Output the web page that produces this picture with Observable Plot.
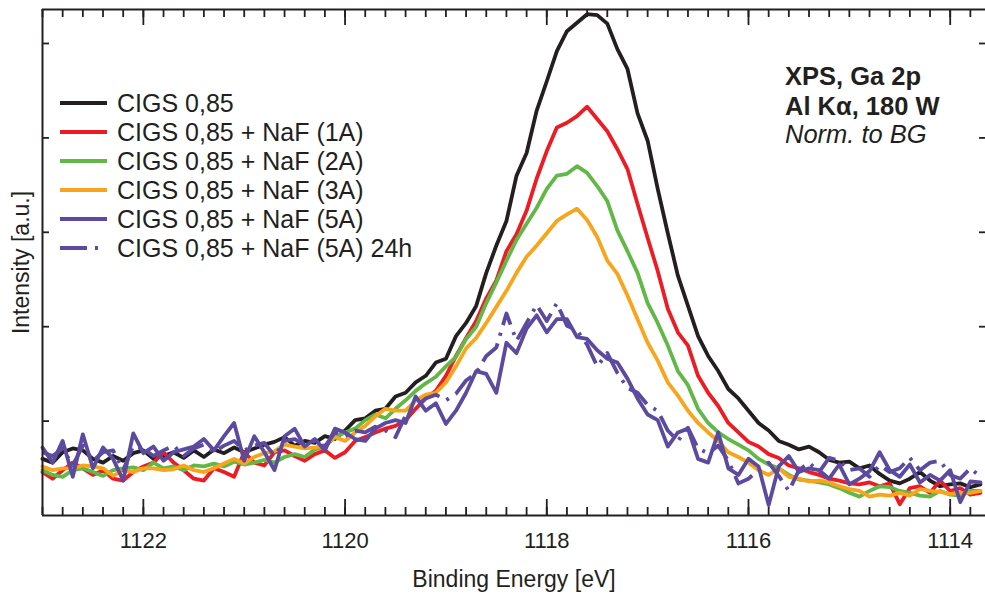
<!DOCTYPE html>
<html>
<head>
<meta charset="utf-8">
<script src="https://cdn.jsdelivr.net/npm/d3@7"></script>
<script src="https://cdn.jsdelivr.net/npm/@observablehq/plot@0.6"></script>
<style>
  html, body { margin: 0; padding: 0; background: #fff; }
  #chart { width: 985px; height: 597px; overflow: hidden; }
</style>
</head>
<body>
<div id="chart"></div>
<script>
// Binding energy grid of the Ga 2p scan (eV)
const energy = [
  1123.0,1122.9,1122.8,1122.7,1122.6,1122.5,1122.4,1122.3,1122.2,1122.1,
  1122.0,1121.9,1121.8,1121.7,1121.6,1121.5,1121.4,1121.3,1121.2,1121.1,
  1121.0,1120.9,1120.8,1120.7,1120.6,1120.5,1120.4,1120.3,1120.2,1120.1,
  1120.0,1119.9,1119.8,1119.7,1119.6,1119.5,1119.4,1119.3,1119.2,1119.1,
  1119.0,1118.9,1118.8,1118.7,1118.6,1118.5,1118.4,1118.3,1118.2,1118.1,
  1118.0,1117.9,1117.8,1117.7,1117.6,1117.5,1117.4,1117.3,1117.2,1117.1,
  1117.0,1116.9,1116.8,1116.7,1116.6,1116.5,1116.4,1116.3,1116.2,1116.1,
  1116.0,1115.9,1115.8,1115.7,1115.6,1115.5,1115.4,1115.3,1115.2,1115.1,
  1115.0,1114.9,1114.8,1114.7,1114.6,1114.5,1114.4,1114.3,1114.2,1114.1,
  1114.0,1113.9,1113.8,1113.7
];

// Intensities normalised to background (a.u.)
const cigs = [
  0.60,0.56,0.67,0.71,0.69,0.60,0.56,0.63,0.58,0.66,
  0.69,0.60,0.63,0.67,0.61,0.69,0.62,0.70,0.66,0.72,
  0.67,0.71,0.75,0.78,0.83,0.74,0.79,0.77,0.84,0.81,
  0.90,1.01,1.03,1.11,1.13,1.26,1.30,1.41,1.48,1.62,
  1.66,1.90,2.04,2.22,2.57,2.86,3.12,3.60,3.84,4.29,
  4.60,4.92,5.13,5.22,5.31,5.30,5.21,4.94,4.73,4.26,
  3.97,3.46,2.99,2.54,2.22,1.90,1.69,1.53,1.34,1.24,
  1.11,0.98,0.90,0.79,0.75,0.70,0.73,0.67,0.59,0.56,
  0.57,0.50,0.53,0.44,0.37,0.34,0.39,0.46,0.37,0.31,
  0.33,0.34,0.30,0.33
];
const naf1 = [
  0.46,0.39,0.48,0.56,0.50,0.43,0.48,0.39,0.37,0.46,
  0.52,0.56,0.67,0.56,0.48,0.39,0.37,0.50,0.46,0.41,
  0.67,0.56,0.53,0.67,0.69,0.63,0.58,0.65,0.69,0.61,
  0.67,0.79,0.83,0.88,0.92,0.95,1.01,1.13,1.24,1.32,
  1.48,1.69,1.88,2.06,2.30,2.49,2.80,2.98,3.23,3.57,
  3.86,4.11,4.16,4.23,4.33,4.20,4.07,3.88,3.67,3.30,
  2.94,2.59,2.19,1.94,1.80,1.48,1.30,1.16,0.98,0.88,
  0.78,0.73,0.65,0.61,0.53,0.50,0.46,0.43,0.39,0.37,
  0.34,0.33,0.35,0.31,0.34,0.12,0.29,0.31,0.24,0.37,
  0.26,0.29,0.22,0.24
];
const naf2 = [
  0.48,0.43,0.41,0.48,0.50,0.46,0.42,0.48,0.50,0.51,
  0.48,0.56,0.50,0.52,0.48,0.53,0.52,0.55,0.52,0.57,
  0.54,0.56,0.59,0.56,0.62,0.65,0.62,0.70,0.73,0.83,
  0.88,0.92,1.01,1.07,1.03,1.13,1.22,1.32,1.40,1.47,
  1.58,1.68,1.87,2.00,2.25,2.47,2.70,2.92,3.09,3.26,
  3.46,3.60,3.62,3.70,3.63,3.49,3.33,3.02,2.80,2.57,
  2.25,2.04,1.80,1.53,1.38,1.13,0.98,0.88,0.81,0.75,
  0.69,0.60,0.54,0.50,0.43,0.38,0.37,0.35,0.33,0.29,
  0.24,0.20,0.26,0.31,0.30,0.26,0.24,0.21,0.20,0.26,
  0.22,0.21,0.26,0.26
];
const naf3 = [
  0.52,0.48,0.50,0.50,0.53,0.52,0.50,0.42,0.48,0.46,
  0.50,0.50,0.48,0.49,0.53,0.48,0.46,0.50,0.55,0.60,
  0.55,0.62,0.66,0.68,0.75,0.73,0.71,0.72,0.74,0.83,
  0.79,0.88,0.95,1.05,1.13,1.11,1.11,1.22,1.28,1.30,
  1.41,1.58,1.77,1.88,2.04,2.21,2.38,2.57,2.74,2.86,
  2.99,3.12,3.19,3.25,3.13,2.95,2.70,2.56,2.33,2.08,
  1.83,1.64,1.41,1.27,1.11,0.98,0.88,0.79,0.67,0.62,
  0.56,0.48,0.43,0.50,0.41,0.39,0.36,0.37,0.35,0.31,
  0.28,0.26,0.20,0.22,0.21,0.24,0.21,0.28,0.26,0.25,
  0.23,0.24,0.24,0.26
];
const naf5 = [
  0.72,0.56,0.79,0.41,0.86,0.50,0.72,0.60,0.37,0.87,
  0.66,0.73,0.58,0.67,0.70,0.73,0.81,0.69,0.84,0.98,
  0.58,0.84,0.67,0.48,0.84,0.92,0.73,0.81,0.69,0.92,
  0.88,0.81,0.79,0.92,0.98,1.01,0.98,1.26,1.11,1.19,
  0.97,1.11,1.30,1.53,1.50,1.30,1.83,1.72,1.98,2.12,
  1.94,2.08,2.08,1.89,1.87,1.75,1.66,1.62,1.45,1.24,
  1.07,1.01,0.73,0.88,0.92,0.60,0.56,0.88,0.50,0.43,
  0.60,0.52,0.11,0.52,0.63,0.46,0.50,0.48,0.39,0.54,
  0.33,0.39,0.47,0.67,0.48,0.41,0.54,0.35,0.43,0.37,
  0.48,0.14,0.36,0.35
];
const naf5_24h = [
  0.67,0.63,0.71,0.53,0.74,0.58,0.67,0.69,0.48,0.74,
  0.71,0.63,0.69,0.74,0.63,0.71,0.75,0.67,0.74,0.79,
  0.69,0.74,0.77,0.63,0.79,0.81,0.74,0.79,0.73,0.88,
  0.84,0.90,0.88,0.94,0.90,0.83,1.06,1.16,1.24,1.28,
  1.22,1.29,1.43,1.51,1.69,1.78,2.14,1.85,2.04,2.23,
  2.06,2.25,2.01,1.96,1.81,1.58,1.72,1.51,1.35,1.30,
  1.17,1.11,0.90,0.79,0.93,0.71,0.66,0.74,0.58,0.34,
  0.39,0.48,0.56,0.42,0.26,0.48,0.56,0.46,0.61,0.58,
  0.48,0.50,0.41,0.53,0.46,0.50,0.61,0.48,0.56,0.58,
  0.43,0.39,0.50,0.41
];

const seriesNames = [
  "CIGS 0,85",
  "CIGS 0,85 + NaF (1A)",
  "CIGS 0,85 + NaF (2A)",
  "CIGS 0,85 + NaF (3A)",
  "CIGS 0,85 + NaF (5A)",
  "CIGS 0,85 + NaF (5A) 24h"
];
const seriesValues = [cigs, naf1, naf2, naf3, naf5, naf5_24h];
const seriesColors = ["#231f20", "#ed1c24", "#62b846", "#f9a51b", "#5c4a9f", "#5c4a9f"];
const seriesDash = [null, null, null, null, null, "24,8,3,8"];
// drawing order: black first, solid 5A on top
const drawOrder = [0, 1, 2, 3, 5, 4];

const majorTicks = [1122, 1120, 1118, 1116, 1114];
const minorTicks = d3.range(0, 47).map(i => +(1123 - 0.2 * i).toFixed(1));
const yTicks = [1, 2, 3, 4, 5];
const annotation = ["XPS, Ga 2p", "Al K\u03b1, 180 W", "Norm. to BG"];

const ink = "#231f20";
const font = "'Liberation Sans', Arial, Helvetica, sans-serif";
const W = 985, H = 597;
const mL = 42, mR = 0, mT = 9, mB = 82;
const frameW = W - mL - mR, frameH = H - mT - mB;
const xDomain = [1123, 1113.65];
const yDomain = [0, 5.36];

const rows = seriesValues.map((vals, s) =>
  energy.map((e, i) => ({series: seriesNames[s], energy: e, intensity: vals[i]}))
);

const lineMarks = drawOrder.map(s =>
  Plot.line(rows[s], {
    x: "energy",
    y: "intensity",
    stroke: seriesColors[s],
    strokeWidth: 3.8,
    strokeLinejoin: "round",
    strokeLinecap: seriesDash[s] ? "butt" : "round",
    strokeDasharray: seriesDash[s]
  })
);

const chart = Plot.plot({
  width: W,
  height: H,
  marginLeft: mL,
  marginRight: mR,
  marginTop: mT,
  marginBottom: mB,
  x: {domain: xDomain},
  y: {domain: yDomain, axis: null},
  style: {fontFamily: font, color: ink, background: "white", overflow: "visible"},
  marks: [
    ...lineMarks,
    // inward ticks on the bottom edge
    Plot.ruleX(minorTicks, {stroke: ink, strokeWidth: 1.8, insetTop: frameH - 8}),
    Plot.ruleX(majorTicks, {stroke: ink, strokeWidth: 1.8, insetTop: frameH - 16}),
    // inward ticks on the top edge
    Plot.ruleX(minorTicks, {stroke: ink, strokeWidth: 1.8, insetBottom: frameH - 8}),
    Plot.ruleX(majorTicks, {stroke: ink, strokeWidth: 1.8, insetBottom: frameH - 16}),
    // inward ticks on the left and right edges
    Plot.ruleY(yTicks, {stroke: ink, strokeWidth: 1.8, insetRight: frameW - 7}),
    Plot.ruleY(yTicks, {stroke: ink, strokeWidth: 1.8, insetLeft: frameW - 6}),
    // frame
    Plot.ruleY([yDomain[0]], {stroke: ink, strokeWidth: 2}),
    Plot.ruleY([yDomain[1]], {stroke: ink, strokeWidth: 2}),
    Plot.ruleX([xDomain[0]], {stroke: ink, strokeWidth: 2}),
    Plot.axisX(majorTicks, {
      anchor: "bottom",
      tickSize: 0,
      tickPadding: 17,
      fontSize: 22,
      label: null,
      tickFormat: d => String(d)
    }),
    Plot.text(["Binding Energy [eV]"], {
      frameAnchor: "bottom", dy: 71, lineAnchor: "bottom", textAnchor: "middle",
      fontSize: 23, fill: ink
    }),
    Plot.text(["Intensity [a.u.]"], {
      frameAnchor: "left", rotate: -90, dx: -14, lineAnchor: "bottom", textAnchor: "middle",
      fontSize: 23, fill: ink
    })
  ]
});

// legend inside the plot area
const svg = d3.select(chart);
const legend = svg.append("g")
  .attr("font-family", font).attr("font-size", 25).attr("fill", ink)
  .attr("text-anchor", "start");
seriesNames.forEach((name, s) => {
  const y = 103 + 29 * s;
  legend.append("line")
    .attr("x1", 60).attr("x2", 107).attr("y1", y).attr("y2", y)
    .attr("stroke", seriesColors[s]).attr("stroke-width", 4)
    .attr("stroke-dasharray", seriesDash[s] ? "27,8,3,9" : null);
  legend.append("text").attr("x", 117).attr("y", y + 8.5).text(name);
});

// measurement annotation
const note = svg.append("g")
  .attr("font-family", font).attr("font-size", 25.5).attr("fill", ink)
  .attr("text-anchor", "start");
const noteY = [85, 115, 143];
annotation.forEach((t, i) => {
  note.append("text")
    .attr("x", 785).attr("y", noteY[i])
    .attr("font-weight", i < 2 ? "bold" : "normal")
    .attr("font-style", i === 2 ? "italic" : "normal")
    .text(t);
});

document.getElementById("chart").append(chart);
</script>
</body>
</html>
